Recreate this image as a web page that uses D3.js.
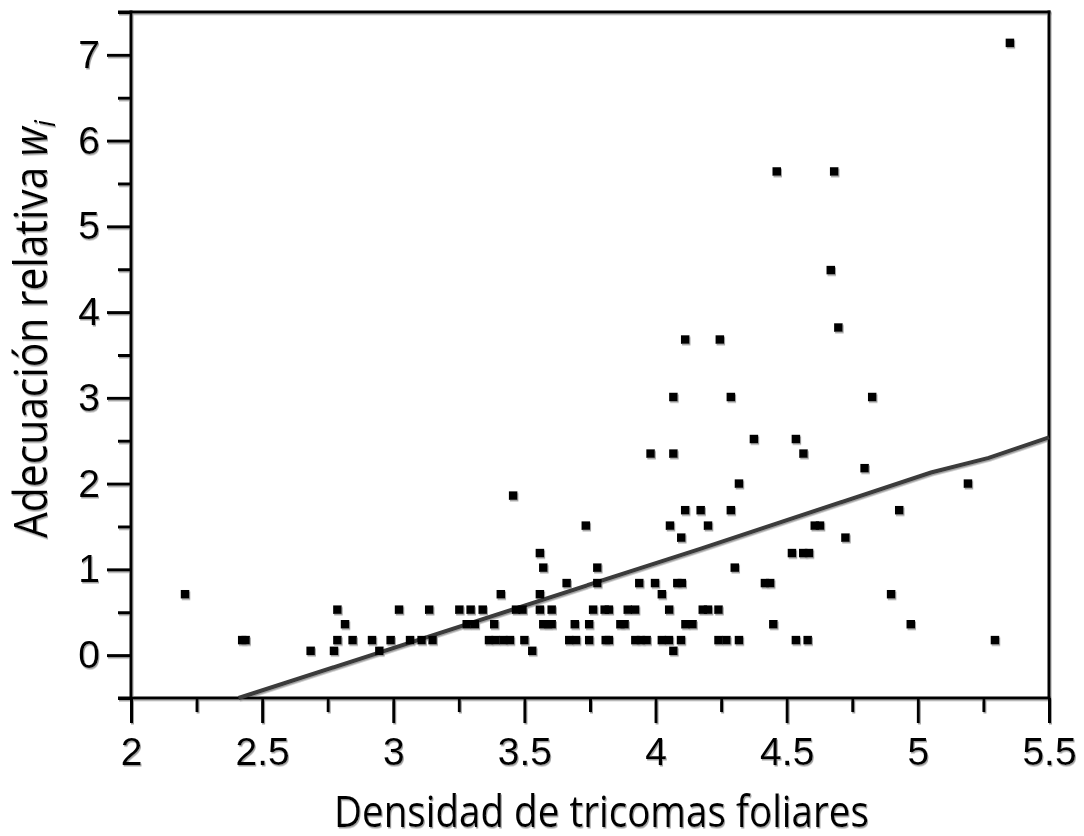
<!DOCTYPE html>
<html>
<head>
<meta charset="utf-8">
<script src="https://cdn.jsdelivr.net/npm/d3@7"></script>
<style>
  html, body { margin: 0; padding: 0; background: #fff; }
  svg { display: block; }
</style>
</head>
<body>
<svg id="chart" width="1084" height="836"></svg>
<script>
// ---- Data ----
const density = [
  2.685, 2.774, 2.947, 3.53, 4.068,
  2.424, 2.437, 2.787, 2.845, 2.919, 2.99, 3.064, 3.108, 3.15, 3.365, 3.39, 3.42, 3.445, 3.5, 3.671, 3.697, 3.747, 3.81, 3.822, 3.923, 3.944, 3.966, 4.024, 4.051, 4.097, 4.24, 4.27, 4.318, 4.535, 4.58, 5.294,
  2.816, 3.28, 3.311, 3.385, 3.572, 3.59, 3.604, 3.692, 3.747, 3.866, 3.882, 4.114, 4.141, 4.449, 4.973,
  2.787, 3.022, 3.137, 3.252, 3.295, 3.341, 3.468, 3.493, 3.559, 3.604, 3.762, 3.806, 3.822, 3.894, 3.922, 4.052, 4.18, 4.2, 4.24,
  2.206, 3.41, 3.559, 4.024, 4.898,
  3.661, 3.778, 3.938, 3.998, 4.083, 4.1, 4.417, 4.437,
  3.572, 3.778, 4.302,
  3.559, 4.52, 4.563, 4.585,
  4.098, 4.724,
  3.734, 4.055, 4.2, 4.607, 4.627,
  4.113, 4.172, 4.287, 4.929,
  3.457,
  4.318, 5.191,
  4.797,
  3.981, 4.068, 4.564,
  4.375, 4.535,
  4.068, 4.287, 4.826,
  4.113, 4.245,
  4.697,
  4.668,
  4.462, 4.681,
  5.351
];
const fitness = [
  0.05, 0.05, 0.05, 0.05, 0.05,
  0.175, 0.175, 0.175, 0.175, 0.175, 0.175, 0.175, 0.175, 0.175, 0.175, 0.175, 0.175, 0.175, 0.175, 0.175, 0.175, 0.175, 0.175, 0.175, 0.175, 0.175, 0.175, 0.175, 0.175, 0.175, 0.175, 0.175, 0.175, 0.175, 0.175, 0.175,
  0.36, 0.36, 0.36, 0.36, 0.36, 0.36, 0.36, 0.36, 0.36, 0.36, 0.36, 0.36, 0.36, 0.36, 0.36,
  0.53, 0.53, 0.53, 0.53, 0.53, 0.53, 0.53, 0.53, 0.53, 0.53, 0.53, 0.53, 0.53, 0.53, 0.53, 0.53, 0.53, 0.53, 0.53,
  0.71, 0.71, 0.71, 0.71, 0.71,
  0.84, 0.84, 0.84, 0.84, 0.84, 0.84, 0.84, 0.84,
  1.02, 1.02, 1.02,
  1.19, 1.19, 1.19, 1.19,
  1.37, 1.37,
  1.51, 1.51, 1.51, 1.51, 1.51,
  1.69, 1.69, 1.69, 1.69,
  1.86,
  2.0, 2.0,
  2.18,
  2.35, 2.35, 2.35,
  2.52, 2.52,
  3.01, 3.01, 3.01,
  3.68, 3.68,
  3.82,
  4.49,
  5.64, 5.64,
  7.14
];
// fitted line as drawn
const lineX = [2.41, 4.17, 5.05, 5.27, 5.5];
const lineY = [-0.5, 1.24, 2.13, 2.30, 2.54];

const xMajorTicks = [2, 2.5, 3, 3.5, 4, 4.5, 5, 5.5];
const xTickLabels = ["2", "2.5", "3", "3.5", "4", "4.5", "5", "5.5"];
const xMinorTicks = [2.25, 2.75, 3.25, 3.75, 4.25, 4.75, 5.25];
const yMajorTicks = [0, 1, 2, 3, 4, 5, 6, 7];
const yTickLabels = ["0", "1", "2", "3", "4", "5", "6", "7"];
const yMinorTicks = [-0.5, 0.5, 1.5, 2.5, 3.5, 4.5, 5.5, 6.5, 7.5];

const xTitle = "Densidad de tricomas foliares";
const yTitle = "Adecuación relativa ";
const yTitleVar = "w";
const yTitleSub = "i";

// ---- Drawing ----
const svg = d3.select("#chart");
const defs = svg.append("defs");
const f = defs.append("filter").attr("id", "shadow")
  .attr("x", "-5%").attr("y", "-5%").attr("width", "110%").attr("height", "110%");
f.append("feDropShadow").attr("dx", 1).attr("dy", 1.5).attr("stdDeviation", 0.6)
  .attr("flood-color", "#8a8a8a").attr("flood-opacity", 0.8);

const g = svg.append("g").attr("filter", "url(#shadow)");

const x = d3.scaleLinear().domain([2, 5.5]).range([131, 1049]);
const y = d3.scaleLinear().domain([-0.5, 7.5]).range([698, 12]);

const tickFont = "'Liberation Sans', Arial, Helvetica, sans-serif";

// x axis major
const xAxis = g.append("g").attr("transform", `translate(0,${y(-0.5)})`)
  .call(d3.axisBottom(x).tickValues(xMajorTicks).tickSize(25).tickPadding(14)
    .tickFormat((d, i) => xTickLabels[i]));
// x axis minor
const xAxisMinor = g.append("g").attr("transform", `translate(0,${y(-0.5)})`)
  .call(d3.axisBottom(x).tickValues(xMinorTicks).tickSize(14).tickFormat(""));
// y axis major
const yAxis = g.append("g").attr("transform", `translate(${x(2)},0)`)
  .call(d3.axisLeft(y).tickValues(yMajorTicks).tickSize(24).tickPadding(7)
    .tickFormat((d, i) => yTickLabels[i]));
const yAxisMinor = g.append("g").attr("transform", `translate(${x(2)},0)`)
  .call(d3.axisLeft(y).tickValues(yMinorTicks).tickSize(13).tickFormat(""));

[xAxis, xAxisMinor, yAxis, yAxisMinor].forEach(a => {
  a.select(".domain").remove();
  a.selectAll(".tick line").attr("stroke", "#000").attr("stroke-width", 3);
  a.selectAll(".tick text").attr("fill", "#000")
    .style("font-family", tickFont).style("font-size", "39px");
});

// frame
const frame = g.append("g").attr("stroke", "#000").attr("stroke-width", 3).attr("fill", "none");
frame.append("line").attr("x1", x(2)).attr("x2", x(2)).attr("y1", y(7.5) - 1.5).attr("y2", y(-0.5));
frame.append("line").attr("x1", x(5.5)).attr("x2", x(5.5)).attr("y1", y(7.5) - 1.5).attr("y2", y(-0.5));
frame.append("line").attr("x1", x(2) - 13).attr("x2", x(5.5) + 1.5).attr("y1", y(7.5)).attr("y2", y(7.5));
frame.append("line").attr("x1", x(2) - 13).attr("x2", x(5.5) + 1.5).attr("y1", y(-0.5)).attr("y2", y(-0.5));

// fitted line
const lineData = lineX.map((d, i) => [d, lineY[i]]);
g.append("path").datum(lineData)
  .attr("fill", "none").attr("stroke", "#3a3a3a").attr("stroke-width", 4)
  .attr("d", d3.line().x(d => x(d[0])).y(d => y(d[1])));

// points
const pts = density.map((d, i) => [d, fitness[i]]);
const s = 8.5;
g.append("g").selectAll("rect").data(pts).join("rect")
  .attr("x", d => x(d[0]) - s / 2).attr("y", d => y(d[1]) - s / 2)
  .attr("width", s).attr("height", s).attr("fill", "#000");

// titles
const titleFont = "'Open Sans', 'Noto Sans', sans-serif";
const xt = g.append("text").attr("x", 0).attr("y", 0)
  .style("font-family", titleFont).style("font-size", "44px").attr("fill", "#000")
  .text(xTitle);
const xw = xt.node().getComputedTextLength();
xt.attr("transform", `translate(334,827) scale(${535 / xw},1)`);

const yt = g.append("text").attr("x", 0).attr("y", 0)
  .style("font-family", titleFont).style("font-size", "45px").attr("fill", "#000");
yt.append("tspan").text(yTitle);
yt.append("tspan").style("font-style", "italic").text(yTitleVar);
yt.append("tspan").style("font-style", "italic").style("font-size", "30px")
  .attr("dy", 8).text(yTitleSub);
const yw = yt.node().getComputedTextLength();
yt.attr("transform", `translate(47,538) rotate(-90) scale(${418 / yw},1)`);
</script>
</body>
</html>
